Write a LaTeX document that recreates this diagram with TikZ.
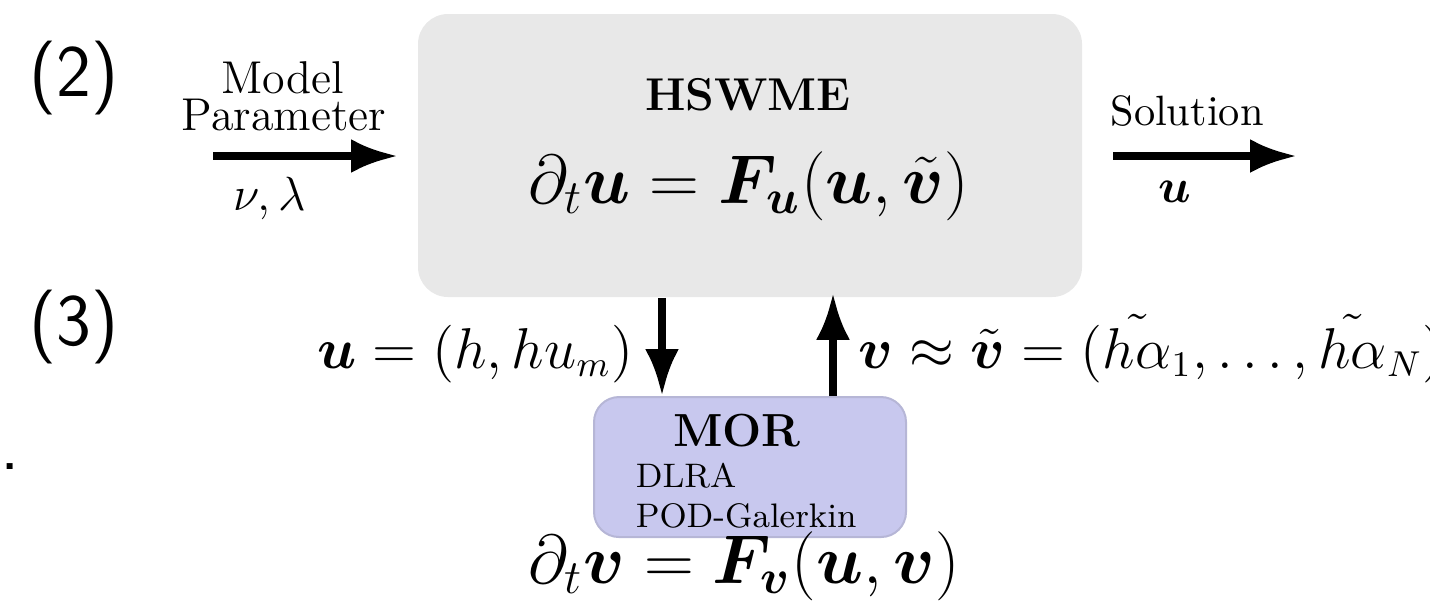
\documentclass[tikz,border=0pt]{standalone}
\usepackage{amsmath,bm}
\usetikzlibrary{arrows.meta}
\definecolor{boxgray}{RGB}{232,232,232}
\definecolor{morfill}{RGB}{200,200,238}
\definecolor{morline}{RGB}{182,182,214}
\begin{document}
\begin{tikzpicture}[x=0.25pt,y=-0.25pt,
  arr/.style={line width=2pt,-{Latex[length=11.75pt,width=8.5pt]}},
  txt/.style={inner sep=0pt,anchor=base},
  lab/.style={txt,font=\fontsize{11.5}{13}\selectfont},
  num/.style={inner sep=0pt,font=\fontsize{18.5}{21}\selectfont\sffamily}]
\useasboundingbox (0,0) rectangle (1430,604);
% boxes
\node[fill=boxgray,inner sep=0pt,minimum width=166pt,minimum height=70.75pt,rounded corners=7.5pt] (hswme) at (750,155.5) {};
\node[fill=morfill,draw=morline,line width=0.5pt,inner sep=0pt,minimum width=78pt,minimum height=35pt,rounded corners=6.25pt] (morbox) at (750,467) {};
% side numbers
\node[num] (n2) at (74,78.5) {(2)};
\node[num] (n3) at (74,327) {(3)};
\node[num] (dot) at (10.5,466.5) {.};
% HSWME
\node[txt,font=\fontsize{11.5}{13}\selectfont\bfseries] (title) at (748,110) {HSWME};
\node[txt,font=\fontsize{17.8}{20}\selectfont] (equ) at (749,203) {$\partial_t\bm{u}=\bm{F}_{\bm{u}}(\bm{u},\tilde{\bm{v}})$};
% input
\node[lab] (model) at (283,93) {Model};
\node[lab] (param) at (284,130) {Parameter};
\node[txt,font=\fontsize{12.2}{14}\selectfont] (nl) at (270,210) {$\nu,\lambda$};
\coordinate (pin) at (213,156);
\coordinate (pend) at (398,156);
\draw[arr] (pin) -- (pend);
% output
\node[txt,font=\fontsize{10.6}{12}\selectfont] (sol) at (1187,125) {Solution};
\node[txt,font=\fontsize{12.5}{14}\selectfont] (uout) at (1175,202) {$\bm{u}$};
\coordinate (sin) at (1113,156);
\coordinate (send) at (1297,156);
\draw[arr] (sin) -- (send);
% vertical links
\draw[arr] ([xshift=-22pt]hswme.south) -- ([xshift=-22pt]morbox.north);
\draw[arr] ([xshift=20.75pt]morbox.north) -- ([xshift=20.75pt,yshift=1.25pt]hswme.south);
\node[txt,anchor=base east,font=\fontsize{13.3}{15}\selectfont] (ul) at (634,368) {$\bm{u}=(h,hu_m)$};
\node[txt,anchor=base west,font=\fontsize{13.3}{15}\selectfont] (vl) at (858,368) {$\bm{v}\approx\tilde{\bm{v}}=(\tilde{h\alpha}_1,\dots,\tilde{h\alpha}_N)$};
% MOR
\node[txt,font=\fontsize{11.6}{13}\selectfont\bfseries] (mortitle) at (737,446) {MOR};
\node[txt,anchor=base west,font=\fontsize{8.5}{10}\selectfont] (dlra) at (635,487) {DLRA};
\node[txt,anchor=base west,font=\fontsize{8.5}{10}\selectfont] (pod) at (635,527) {POD-Galerkin};
\node[txt,font=\fontsize{17.8}{20}\selectfont] (eqv) at (744,583) {$\partial_t\bm{v}=\bm{F}_{\bm{v}}(\bm{u},\bm{v})$};
\end{tikzpicture}
\end{document}
